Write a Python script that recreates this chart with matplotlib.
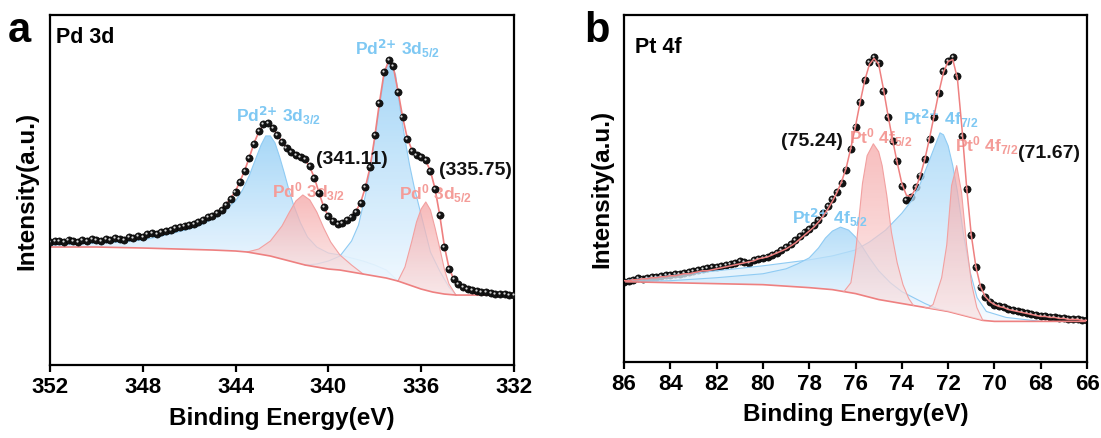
import numpy as np
import matplotlib
matplotlib.use("Agg")
import matplotlib.pyplot as plt
from matplotlib.patches import Polygon
from matplotlib.colors import LinearSegmentedColormap
from matplotlib.transforms import offset_copy

plt.rcParams['font.family'] = ['Liberation Sans', 'DejaVu Sans']
plt.rcParams['font.weight'] = 'bold'
plt.rcParams['mathtext.default'] = 'regular'

# ---------------- panel a : Pd 3d ----------------
a_energy = np.round(np.arange(352.0, 331.9, -0.2), 1)
a_counts = [123, 124, 124, 123, 125, 124, 123, 125, 124, 126,
            125, 124, 126, 125, 127, 126, 125, 128, 127, 129,
            128, 131, 132, 131, 133, 134, 135, 137, 138, 139,
            140, 141, 143, 145, 148, 149, 152, 155, 160, 166,
            173, 183, 194, 207, 221, 234, 241, 242, 237, 230,
            223, 217, 213, 210, 208, 206, 199, 187, 172, 158,
            149, 144, 141, 142, 145, 148, 153, 162, 178, 198,
            230, 262, 293, 305, 299, 273, 248, 226, 214, 210,
            208, 205, 194, 176, 150, 118, 96, 86, 81, 78,
            76, 75, 74, 73, 73, 72, 71, 71, 71, 70,
            70]
a_fit = [122, 122, 122, 123, 123, 123, 123, 124, 124, 124,
         124, 125, 125, 125, 126, 126, 126, 127, 128, 128,
         129, 130, 131, 132, 133, 134, 135, 136, 138, 139,
         141, 142, 144, 146, 148, 150, 153, 156, 161, 167,
         174, 184, 195, 208, 222, 233, 240, 241, 237, 230,
         223, 217, 213, 210, 208, 205, 198, 187, 172, 158,
         149, 144, 142, 142, 145, 149, 154, 163, 178, 198,
         228, 262, 292, 304, 298, 274, 248, 227, 215, 211,
         208, 204, 194, 176, 150, 119, 97, 86, 80, 77,
         75, 74, 73, 72, 72, 71, 71, 71, 70, 70,
         70]
a_bg_x = [352, 350, 348, 346.5, 345, 344, 343.5, 343, 342.5, 342, 341.5, 341, 340.5,
          340, 339.5, 339, 338.5, 338, 337.5, 337, 336.5, 336, 335.5, 335, 334.5, 334, 332]
a_bg_y = [118, 118, 117, 116, 115, 114, 113, 111, 109, 106, 103, 100, 98,
          96, 95, 93, 91, 89, 87, 84, 80, 76, 73, 71, 70, 70, 70]

pd2_32_x = [352, 351, 350, 349, 348, 347, 346, 345.5, 345, 344.5, 344, 343.7, 343.4, 343.1,
            342.9, 342.7, 342.5, 342.3, 342.1, 341.9, 341.7, 341.5, 341.2, 340.9, 340.5,
            340, 339.5, 339, 338.5, 338, 337.5, 337]
pd2_32_y = [120, 121, 122, 123, 125, 130, 136, 140, 146, 154, 164, 175, 190, 208,
            220, 229, 229, 222, 208, 192, 175, 160, 142, 128, 118,
            112, 110, 107, 104, 100, 95, 84]
pd0_32_x = [343.5, 343, 342.5, 342, 341.7, 341.4, 341.1, 340.8, 340.5, 340.2, 339.9, 339.5, 339, 338.5]
pd0_32_y = [113, 116, 124, 139, 152, 164, 170, 165, 153, 137, 123, 110, 100, 91]
pd2_52_x = [341, 340.5, 340, 339.5, 339, 338.7, 338.4, 338.2, 338, 337.8, 337.6, 337.45, 337.3,
            337.1, 336.9, 336.7, 336.5, 336.3, 336, 335.6, 335.2, 334.8, 334.5]
pd2_52_y = [100, 101, 104, 109, 124, 140, 170, 196, 226, 258, 288, 301, 302,
            290, 255, 226, 200, 178, 150, 113, 94, 78, 70]
pd0_52_x = [337, 336.7, 336.4, 336.2, 336, 335.8, 335.6, 335.4, 335.2, 335, 334.8, 334.5]
pd0_52_y = [84, 98, 124, 143, 156, 163, 155, 137, 117, 96, 81, 70]

# ---------------- panel b : Pt 4f ----------------
b_energy = np.round(np.arange(86.0, 65.9, -0.2), 1)
b_counts = [81, 82, 83, 85, 84, 85, 86, 86, 87, 88,
            88, 89, 89, 90, 91, 92, 93, 94, 95, 96,
            96, 97, 98, 99, 100, 102, 101, 100, 103, 104,
            105, 106, 108, 110, 113, 116, 119, 123, 127, 131,
            134, 138, 143, 150, 157, 164, 171, 180, 194, 215,
            237, 262, 284, 302, 307, 301, 273, 247, 223, 203,
            177, 163, 166, 176, 188, 205, 225, 247, 271, 293,
            303, 307, 288, 228, 174, 128, 96, 76, 66, 61,
            58, 56, 55, 53, 52, 51, 50, 49, 48, 47,
            46, 46, 45, 45, 44, 44, 43, 43, 43, 42,
            42]
b_fit = [82, 82, 83, 83, 84, 84, 85, 85, 86, 86,
         87, 87, 88, 89, 89, 90, 91, 92, 92, 93,
         94, 95, 96, 97, 98, 99, 100, 101, 102, 104,
         105, 106, 108, 110, 112, 114, 117, 120, 124, 128,
         132, 136, 141, 147, 154, 162, 171, 182, 196, 216,
         238, 262, 284, 300, 306, 300, 276, 249, 224, 201,
         180, 168, 167, 175, 188, 205, 226, 249, 272, 292,
         303, 305, 286, 235, 176, 128, 96, 76, 66, 61,
         58, 56, 55, 53, 52, 51, 50, 49, 48, 47,
         46, 46, 45, 45, 44, 44, 43, 43, 43, 42,
         42]
b_bg_x = [86, 84, 82, 80, 78, 77, 76, 75.5, 75, 74.5, 74, 73.5, 73, 72.5, 72, 71.5, 71, 70.5, 70, 68, 66]
b_bg_y = [81, 80, 79, 78, 75, 73, 69, 66, 63, 61, 59, 57, 55, 53, 51, 48, 45, 42, 41, 41, 41]

pt2_52_x = [86, 84, 82, 80, 79, 78.5, 78, 77.6, 77.3, 77, 76.65, 76.3, 76, 75.7, 75.4, 75,
            74.5, 74, 73.5, 73, 72.5, 72]
pt2_52_y = [81, 82, 85, 89, 94, 99, 105, 115, 125, 132, 136, 133, 126, 116, 105, 92,
            80, 71, 65, 59, 54, 51]
pt2_72_x = [86, 84, 82, 80, 78, 77, 76, 75.4, 74.7, 74, 73.6, 73.2, 72.8, 72.5, 72.35, 72.2,
            72.0, 71.8, 71.6, 71.35, 71.05, 70.75, 70.35, 69.5, 68]
pt2_72_y = [82, 87, 92, 97, 103, 107, 113, 121, 133, 150, 162, 180, 204, 222, 231, 229,
            218, 198, 172, 131, 91, 65, 51, 45, 41]
pt0_52_x = [76.5, 76.2, 76, 75.85, 75.7, 75.5, 75.23, 75, 74.85, 74.65, 74.45, 74.2, 73.95, 73.7, 73.5]
pt0_52_y = [71, 80, 110, 145, 180, 208, 220, 212, 198, 168, 131, 100, 78, 64, 57]
pt0_72_x = [73, 72.9, 72.65, 72.28, 72.06, 71.85, 71.63, 71.42, 71.2, 70.98, 70.76, 70.5]
pt0_72_y = [55, 54, 58, 85, 118, 178, 198, 171, 118, 78, 55, 42]

BLUE_TXT = '#7ec8f3'
RED_TXT = '#f49c98'
BLUE_TOP, BLUE_BOT, BLUE_EDGE = '#9dd3f7', '#f2f9ff', '#8fcbf3'
RED_TOP, RED_BOT, RED_EDGE = '#f5a3a3', '#fbe2e2', '#f2a0a0'
FIT = '#ee8080'


def grad_fill(ax, x, y, bx, by, top, bot, edge, alpha, z):
    x = np.asarray(x, float)
    y = np.asarray(y, float)
    bx = np.asarray(bx, float)
    by = np.asarray(by, float)
    m = (bx <= x.max()) & (bx >= x.min())
    px = np.r_[x, bx[m][::-1]]
    py = np.r_[y, by[m][::-1]]
    poly = Polygon(np.column_stack([px, py]), closed=True, fc='none', ec='none')
    ax.add_patch(poly)
    cmap = LinearSegmentedColormap.from_list('g', [bot, top])
    im = ax.imshow(np.linspace(0, 1, 256).reshape(-1, 1), cmap=cmap, origin='lower',
                   aspect='auto', extent=[x.min(), x.max(), py.min(), py.max()],
                   alpha=alpha, zorder=z, interpolation='bilinear')
    im.set_clip_path(poly)
    ax.plot(x, y, color=edge, lw=0.8, zorder=z + 0.1)


def dots(fig, ax, x, y, z):
    ax.plot(x, y, 'o', ms=5.2, mfc='#141414', mec='#000000', mew=0.4, zorder=z)
    hl = offset_copy(ax.transData, fig=fig, x=-0.8, y=0.8, units='points')
    ax.plot(x, y, 'o', ms=1.6, color='#d8d8d8', mew=0, transform=hl, zorder=z + 0.1)


def style(ax, xlo, xhi, ticks):
    ax.set_xlim(xlo, xhi)
    ax.set_ylim(0, 350)
    ax.set_xticks(ticks)
    ax.set_yticks([])
    for s in ax.spines.values():
        s.set_linewidth(1.6)
    ax.tick_params(axis='x', direction='out', length=5, width=1.6, labelsize=16, pad=3)
    ax.set_xlabel('Binding Energy(eV)', fontsize=17.5, fontweight='bold', labelpad=6)
    ax.set_ylabel('Intensity(a.u.)', fontsize=17.5, fontweight='bold', labelpad=8)


fig = plt.figure(figsize=(11.01, 4.39), dpi=100)
ax1 = fig.add_axes([0.0454, 0.166, 0.4214, 0.798])
ax2 = fig.add_axes([0.5668, 0.173, 0.4205, 0.791])

# panel a
ax1.plot(a_bg_x, a_bg_y, color=FIT, lw=1.2, zorder=2.5)
grad_fill(ax1, pd2_32_x, pd2_32_y, a_bg_x, a_bg_y, BLUE_TOP, BLUE_BOT, BLUE_EDGE, 0.9, 1)
grad_fill(ax1, pd2_52_x, pd2_52_y, a_bg_x, a_bg_y, BLUE_TOP, BLUE_BOT, BLUE_EDGE, 0.9, 1.2)
grad_fill(ax1, pd0_32_x, pd0_32_y, a_bg_x, a_bg_y, RED_TOP, RED_BOT, RED_EDGE, 0.75, 1.4)
grad_fill(ax1, pd0_52_x, pd0_52_y, a_bg_x, a_bg_y, RED_TOP, RED_BOT, RED_EDGE, 0.75, 1.6)
ax1.plot(a_energy, a_fit, color=FIT, lw=1.2, zorder=2.6)
dots(fig, ax1, a_energy, a_counts, 3)

lab = dict(fontsize=12.5, fontweight='bold', va='baseline', ha='left', zorder=2.8)
num = dict(fontsize=14, fontweight='bold', va='baseline', ha='left', zorder=2.8, color='#111111')
ax1.text(344.0, 244, r'Pd$^{\text{2+}}$ 3d$_{3/2}$', color=BLUE_TXT, **lab)
ax1.text(340.52, 202, '(341.11)', **num)
ax1.text(342.41, 168, r'Pd$^{0}$ 3d$_{3/2}$', color=RED_TXT, **lab)
ax1.text(338.85, 311, r'Pd$^{\text{2+}}$ 3d$_{5/2}$', color=BLUE_TXT, **lab)
ax1.text(335.21, 191, '(335.75)', **num)
ax1.text(336.95, 166, r'Pd$^{0}$ 3d$_{5/2}$', color=RED_TXT, **lab)
ax1.text(0.012, 0.923, 'Pd 3d', transform=ax1.transAxes, fontsize=15.5, fontweight='bold', va='baseline')
style(ax1, 352, 332, [352, 348, 344, 340, 336, 332])

# panel b
dots(fig, ax2, b_energy, b_counts, 1)
ax2.plot(b_bg_x, b_bg_y, color=FIT, lw=1.2, zorder=2.5)
grad_fill(ax2, pt2_72_x, pt2_72_y, b_bg_x, b_bg_y, BLUE_TOP, BLUE_BOT, BLUE_EDGE, 0.75, 2)
grad_fill(ax2, pt2_52_x, pt2_52_y, b_bg_x, b_bg_y, BLUE_TOP, BLUE_BOT, BLUE_EDGE, 0.75, 2.2)
grad_fill(ax2, pt0_52_x, pt0_52_y, b_bg_x, b_bg_y, RED_TOP, RED_BOT, RED_EDGE, 0.7, 2.4)
grad_fill(ax2, pt0_72_x, pt0_72_y, b_bg_x, b_bg_y, RED_TOP, RED_BOT, RED_EDGE, 0.7, 2.6)
ax2.plot(b_energy, b_fit, color=FIT, lw=1.1, zorder=3)

ax2.text(79.2, 219, '(75.24)', **num)
ax2.text(76.3, 221, r'Pt$^{0}$ 4f$_{5/2}$', color=RED_TXT, **lab)
ax2.text(73.95, 240, r'Pt$^{\text{2+}}$ 4f$_{7/2}$', color=BLUE_TXT, **lab)
ax2.text(71.7, 213, r'Pt$^{0}$ 4f$_{7/2}$', color=RED_TXT, **lab)
ax2.text(68.97, 207, '(71.67)', **num)
ax2.text(78.74, 140, r'Pt$^{\text{2+}}$ 4f$_{5/2}$', color=BLUE_TXT, **lab)
ax2.text(0.024, 0.893, 'Pt 4f', transform=ax2.transAxes, fontsize=15.5, fontweight='bold', va='baseline')
style(ax2, 86, 66, list(range(86, 65, -2)))

fig.text(0.007, 0.904, 'a', fontsize=30, fontweight='bold', va='baseline')
fig.text(0.531, 0.904, 'b', fontsize=30, fontweight='bold', va='baseline')

fig.savefig('out.png', dpi=100)
